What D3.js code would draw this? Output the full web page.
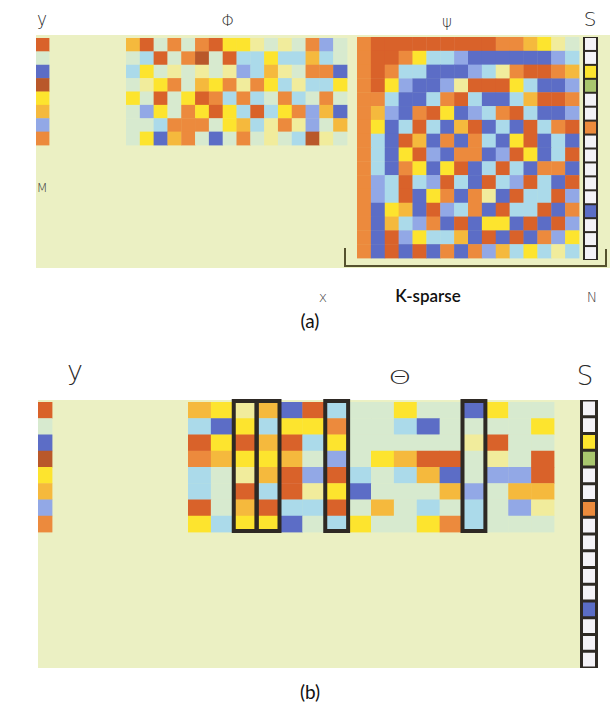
<!DOCTYPE html>
<html>
<head>
<meta charset="utf-8">
<script src="https://cdn.jsdelivr.net/npm/d3@7"></script>
<style>
  body { margin: 0; background: #ffffff; }
  svg { display: block; }
</style>
</head>
<body>
<svg id="fig" width="616" height="708"></svg>
<script>
// ---- cell colour codes -------------------------------------------------
// O orange, R red-orange, N brown, B blue, P periwinkle, L light blue,
// Y yellow, G gold, C cream, E pale, W white, V green
const measurementY = ["R", "E", "B", "N", "Y", "G", "P", "O"];

const phiRows = [
  "GREOEORYYCECEOPE",
  "ELREONERLLYLLGLE",
  "LYECECECPLGCEOOB",
  "ECYOEGYOCOYLCLLY",
  "YEREYROLOLEOLEOE",
  "EPYEOYRYLRLYOPGB",
  "EELOOOEYGLCOCPEG",
  "EYBGOEBEOECELNCE"
];

const psiRows = [
  "ORRRRRRRRROOGYCE",
  "ORROYLLPBBBBBBPL",
  "OROLLBBBPLCORROG",
  "ORYPBBPCRRRYLBBP",
  "OOLBBLORLBBLGRRO",
  "OGPBORYBPLORLBBP",
  "OYBLRLBGRBLBRLOR",
  "OLBRGBOBOLBYRBLB",
  "OLBYRPBOOBPRYBLR",
  "OLBOYBYRBLRLBOOB",
  "OPLRLPRLBRLPRLBR",
  "OPLRBYOBOCBRLLRP",
  "OBYGBRPLOBRLLRBO",
  "OBGLPOBRBYYBRBRP",
  "OBRPYLLGBRBRBOPY",
  "OBRBRBOBOPGLYLCL"
];

const sparseS = ["W", "W", "Y", "V", "W", "W", "O", "W", "W", "W", "W", "W", "B", "W", "W", "W"];

const thetaRows = [
  "GYCGBRLEEYEEBYEE",
  "LBYLYYOEELBEEEEY",
  "RYRGRLYEEEEECREE",
  "OGYYGEPEYGRRECER",
  "LECGRPRLELGBEPPR",
  "LERLRCYBEEEGPEGG",
  "REGRLLREGELELEPC",
  "YLYYBELYEEYOLEEE"
];

// ---- styling ------------------------------------------------------------
const palette = {
  O: "#ec8a3c", R: "#d9622c", N: "#b9582c", B: "#5b6dc6", P: "#92a8e6",
  L: "#abdaea", Y: "#fde42e", G: "#f5b93e", C: "#f1ec9c", E: "#d7eacf",
  W: "#f4f2f7", V: "#a9c66e"
};
const panelBg = "#ebf0c3";
const frameInk = "#2e2924";

const svg = d3.select("#fig");
const defs = svg.append("defs");
defs.append("filter").attr("id", "soft")
  .append("feGaussianBlur").attr("stdDeviation", 0.75);

// draw a grid of coloured cells from rows of codes
function drawMatrix(parent, rows, x0, x1, y0, y1) {
  const grid = rows.map(r => Array.from(r));
  const nCols = grid[0].length;
  const xs = d3.scaleBand().domain(d3.range(nCols)).range([x0, x1]);
  const ys = d3.scaleBand().domain(d3.range(grid.length)).range([y0, y1]);
  const cells = [];
  grid.forEach((row, i) => row.forEach((code, j) => cells.push({ i, j, code })));
  parent.append("g").attr("filter", "url(#soft)")
    .selectAll("rect").data(cells).join("rect")
    .attr("x", d => xs(d.j))
    .attr("y", d => ys(d.i))
    .attr("width", xs.bandwidth() + 0.4)
    .attr("height", ys.bandwidth() + 0.4)
    .attr("fill", d => palette[d.code]);
  return { xs, ys };
}

// column vector of framed cells (the sparse coefficients)
function drawFramedColumn(parent, codes, x0, x1, y0, y1, frameW, sepW) {
  const ys = d3.scaleBand().domain(d3.range(codes.length)).range([y0, y1]);
  const g = parent.append("g");
  g.append("rect").attr("x", x0).attr("y", y0)
    .attr("width", x1 - x0).attr("height", y1 - y0).attr("fill", frameInk);
  g.selectAll("rect.cell").data(codes).join("rect").attr("class", "cell")
    .attr("x", x0 + frameW)
    .attr("y", (d, i) => ys(i) + sepW / 2)
    .attr("width", x1 - x0 - 2 * frameW)
    .attr("height", ys.bandwidth() - sepW)
    .attr("fill", d => palette[d]);
}

const symFont = "'DejaVu Sans', sans-serif";
const capFont = "Lato, 'Open Sans', sans-serif";

function label(text, x, y, size, opts = {}) {
  const t = svg.append("text")
    .attr("text-anchor", "middle")
    .attr("font-family", opts.family || symFont)
    .attr("font-size", size)
    .attr("font-weight", opts.weight || 300)
    .attr("fill", opts.fill || "#2a2a2a")
    .text(text);
  const sx = opts.scaleX || 1;
  t.attr("transform", `translate(${x},${y}) scale(${sx},1)`);
}

// ---- panel (a): y = Φ Ψ s -------------------------------------------------
const panelA = svg.append("g");
panelA.append("rect").attr("x", 36).attr("y", 35).attr("width", 574).attr("height", 233)
  .attr("fill", panelBg);

drawMatrix(panelA, measurementY.map(c => c), 36, 49, 38, 145);
drawMatrix(panelA, phiRows, 126, 347, 38, 145);
drawMatrix(panelA, psiRows, 357, 579, 37, 258);
drawFramedColumn(panelA, sparseS, 583, 598, 37, 260, 2, 2);

panelA.append("path")
  .attr("d", "M345,248 V266 H606 V249")
  .attr("fill", "none").attr("stroke", "#55522e").attr("stroke-width", 2);

label("y", 42, 25, 17);
label("Φ", 228, 26, 16);
label("ψ", 447, 27, 15);
label("S", 590, 26, 20);
label("M", 42, 192, 13, { fill: "#444" });
label("x", 323, 302, 14, { fill: "#444" });
label("K-sparse", 428, 302, 17, { family: capFont, weight: 600, fill: "#111" });
label("N", 592, 302, 14, { fill: "#444" });
label("(a)", 310, 328, 19, { family: capFont, weight: 400, fill: "#111" });

// ---- panel (b): y = Θ s ---------------------------------------------------
const panelB = svg.append("g");
panelB.append("rect").attr("x", 38).attr("y", 400).attr("width", 560).attr("height", 268)
  .attr("fill", panelBg);

drawMatrix(panelB, measurementY.map(c => c), 38, 52, 402, 532);
const theta = drawMatrix(panelB, thetaRows, 188, 554, 402, 532);
drawFramedColumn(panelB, sparseS, 580, 598, 400, 668, 3, 3);

// columns of Θ picked out by the non-zero entries of s
const support = sparseS.map((c, i) => ({ c, i })).filter(d => d.c !== "W").map(d => d.i);
panelB.append("g").selectAll("rect").data(support).join("rect")
  .attr("x", j => theta.xs(j))
  .attr("y", 401)
  .attr("width", theta.xs.bandwidth())
  .attr("height", 130)
  .attr("fill", "none")
  .attr("stroke", frameInk)
  .attr("stroke-width", 4);

label("y", 75, 380, 27);
label("Θ", 400, 384, 20, { scaleX: 1.45 });
label("S", 585, 385, 26);
label("(b)", 310, 699, 19, { family: capFont, weight: 400, fill: "#111" });
</script>
</body>
</html>
